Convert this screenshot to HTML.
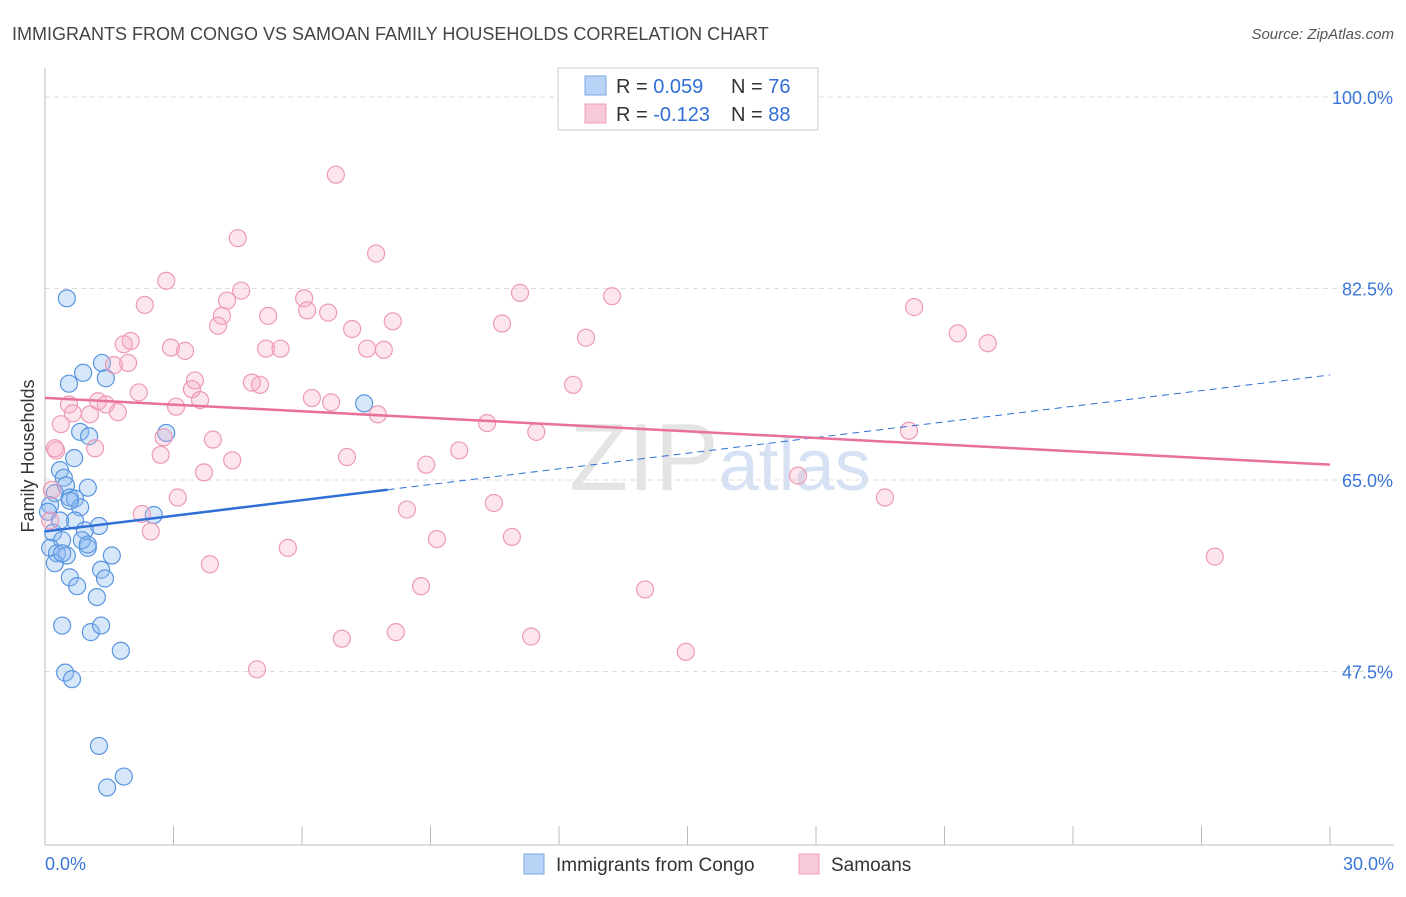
<!DOCTYPE html>
<html><head><meta charset="utf-8"><style>
body{margin:0;background:#fff;font-family:"Liberation Sans",sans-serif;}
svg text{font-family:"Liberation Sans",sans-serif;}
</style></head><body>
<svg id="chart" width="1406" height="892" xmlns="http://www.w3.org/2000/svg">
<text x="12" y="40" font-size="18" fill="#444">IMMIGRANTS FROM CONGO VS SAMOAN FAMILY HOUSEHOLDS CORRELATION CHART</text>
<text x="1394" y="39" font-size="15" fill="#555" text-anchor="end" font-style="italic">Source: ZipAtlas.com</text>
<text transform="translate(34,456) rotate(-90)" font-size="18" fill="#333" text-anchor="middle">Family Households</text>
<text x="720" y="490" font-size="96" fill="#e4e4e4" text-anchor="middle" font-family="Liberation Serif">ZIP<tspan fill="#d6e2f3" font-family="Liberation Sans" font-size="72">atlas</tspan></text>
<g id="grid"></g><g id="axes"></g><g id="marks"></g>
<g>
<rect x="558" y="68" width="260" height="62" fill="#fff" stroke="#ccc"/>
<rect x="585" y="76" width="21" height="19" fill="#b8d3f5" stroke="#7aa8e6"/>
<rect x="585" y="104" width="21" height="19" fill="#f8c9d7" stroke="#eea0b8"/>
<text x="616" y="93" font-size="20" fill="#333">R = <tspan fill="#2f6fd6"> 0.059</tspan><tspan x="731">N = </tspan><tspan fill="#2f6fd6">76</tspan></text>
<text x="616" y="121" font-size="20" fill="#333">R = <tspan fill="#2f6fd6">-0.123</tspan><tspan x="731">N = </tspan><tspan fill="#2f6fd6">88</tspan></text>
</g>
<g>
<rect x="524" y="854" width="20" height="20" fill="#b8d3f5" stroke="#7aa8e6"/>
<text x="556" y="871" font-size="19" fill="#333">Immigrants from Congo</text>
<rect x="799" y="854" width="20" height="20" fill="#f8c9d7" stroke="#eea0b8"/>
<text x="831" y="871" font-size="19" fill="#333">Samoans</text>
</g>
</svg>
<script>
const yTicks=[47.5,65.0,82.5,100.0];
const xTickLabels=["0.0%","30.0%"];
const congoX=[0.51,1.33,0.56,0.89,1.42,7.45,0.82,1.03,2.83,0.68,0.35,0.44,0.49,1.0,0.23,0.58,0.7,0.12,0.82,0.07,2.54,0.7,1.26,0.93,0.19,0.4,0.12,1.0,1.56,0.28,0.51,0.23,1.31,0.58,1.4,0.75,1.21,0.4,1.07,1.31,1.77,0.47,0.63,1.26,1.84,1.45,0.4,0.86,1.0,0.58,0.35];
const congoY=[81.6,75.7,73.8,74.8,74.3,72.0,69.4,69.0,69.3,67.0,65.9,65.2,64.5,64.3,63.8,63.4,63.3,62.7,62.5,62.1,61.8,61.3,60.8,60.4,60.2,59.5,58.8,58.8,58.1,58.3,58.1,57.4,56.8,56.1,56.0,55.3,54.3,51.7,51.1,51.7,49.4,47.4,46.8,40.7,37.9,36.9,58.3,59.5,59.1,63.1,61.3];
const samoaX=[6.79,4.5,7.73,2.83,11.09,13.24,2.33,4.25,4.58,6.05,6.12,6.61,5.21,4.13,4.04,8.12,10.67,7.17,12.63,20.29,21.31,22.01,2.0,1.84,2.94,3.27,5.16,5.5,7.52,7.91,1.61,1.94,3.5,4.83,5.02,12.33,2.19,3.43,3.62,6.23,6.68,0.56,1.24,1.42,3.06,1.7,1.05,0.65,7.77,0.37,10.32,11.47,2.77,3.92,20.17,1.17,0.26,9.67,2.7,7.05,4.37,8.9,3.71,17.58,3.1,10.48,19.61,8.45,2.26,2.47,9.15,10.9,5.67,3.85,27.31,8.78,14.01,8.19,6.93,11.35,14.96,4.95,0.23,0.16,0.12];
const samoaY=[92.9,87.1,85.7,83.2,82.1,81.8,81.0,81.4,82.3,81.6,80.5,80.3,80.0,80.0,79.1,79.5,79.3,78.8,78.0,80.8,78.4,77.5,77.7,77.4,77.1,76.8,77.0,77.0,77.0,76.9,75.5,75.7,74.1,73.9,73.7,73.7,73.0,73.3,72.3,72.5,72.1,71.9,72.2,71.9,71.7,71.2,71.0,71.1,71.0,70.1,70.2,69.4,68.9,68.7,69.5,67.9,67.7,67.7,67.3,67.1,66.8,66.4,65.7,65.4,63.4,62.9,63.4,62.3,61.9,60.3,59.6,59.8,58.8,57.3,58.0,55.3,55.0,51.1,50.5,50.7,49.3,47.7,67.9,64.1,61.3];
const congoTrend=[60.3,74.6]; // y at x=0 and x=30
const congoSolidEnd=8;
const samoaTrend=[72.5,66.4];
const NS="http://www.w3.org/2000/svg";
const X=v=>45+v/30*1285;
const Y=v=>97+(100-v)*10.943;
function mk(tag,attrs,parent){const e=document.createElementNS(NS,tag);for(const k in attrs)e.setAttribute(k,attrs[k]);document.getElementById(parent).appendChild(e);return e;}
yTicks.forEach(t=>{
 const g=mk('line',{x1:45,x2:1394,y1:Y(t),y2:Y(t),stroke:'#ddd','stroke-dasharray':'5,4'},'grid');
 
 
 const l=mk('text',{x:1393,y:Y(t)+7,'font-size':18,fill:'#3a76d8','text-anchor':'end'},'axes');
 l.textContent=t.toFixed(1)+'%';
 
 
});
const ax=mk('line',{x1:45,x2:45,y1:68,y2:845,stroke:'#bbb'},'axes');


const bx=mk('line',{x1:45,x2:1394,y1:845,y2:845,stroke:'#bbb'},'axes');


for(let i=1;i<=10;i++){const t=mk('line',{x1:X(i*3),x2:X(i*3),y1:826,y2:845,stroke:'#bbb'},'axes');
 
 }
[[0,'start'],[30,'end']].forEach((p,i)=>{const t=mk('text',{x:i?1394:45,y:870,'font-size':18,fill:'#3a76d8','text-anchor':p[1]},'axes');t.textContent=xTickLabels[i];
 
 });
congoX.forEach((x,i)=>{const c=mk('circle',{cx:X(x),cy:Y(congoY[i]),r:8.5,fill:'rgba(140,185,240,0.35)',stroke:'#5a95e0','stroke-width':1.2},'marks');
 
 });
samoaX.forEach((x,i)=>{const c=mk('circle',{cx:X(x),cy:Y(samoaY[i]),r:8.5,fill:'rgba(245,170,195,0.3)',stroke:'#ee9ab5','stroke-width':1.2},'marks');
 
 });
const cy=x=>congoTrend[0]+(congoTrend[1]-congoTrend[0])*x/30;
const t1=mk('line',{x1:X(0),y1:Y(cy(0)),x2:X(congoSolidEnd),y2:Y(cy(congoSolidEnd)),stroke:'#2f6fd6','stroke-width':2.5},'marks');


const t2=mk('line',{x1:X(congoSolidEnd),y1:Y(cy(congoSolidEnd)),x2:X(30),y2:Y(cy(30)),stroke:'#2f6fd6','stroke-width':1,'stroke-dasharray':'7,5'},'marks');


const t3=mk('line',{x1:X(0),y1:Y(samoaTrend[0]),x2:X(30),y2:Y(samoaTrend[1]),stroke:'#e8709a','stroke-width':2.5},'marks');


</script>
</body></html>
